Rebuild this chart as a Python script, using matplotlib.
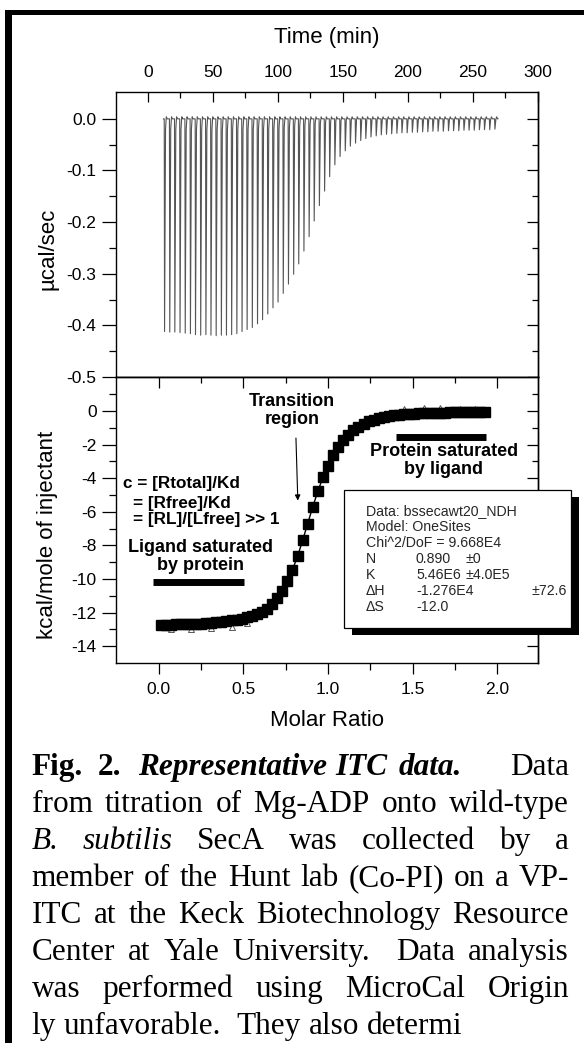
import matplotlib
matplotlib.use('Agg')
import matplotlib.pyplot as plt
from matplotlib.patches import Rectangle
from matplotlib.ticker import FixedLocator

plt.rcParams['font.family'] = ['Liberation Sans', 'DejaVu Sans']
plt.rcParams['axes.unicode_minus'] = False

W, H = 584, 1043

# ---- data ----
# raw thermogram: injection start times (min) and peak heights (ucal/sec)
inj_time = [12.5, 16.5, 20.4, 24.4, 28.4, 32.4, 36.3, 40.3, 44.3, 48.2,
            52.2, 56.2, 60.1, 64.1, 68.1, 72.1, 76.0, 80.0, 84.0, 87.9,
            91.9, 95.9, 99.8, 103.8, 107.8, 111.8, 115.7, 119.7, 123.7, 127.6,
            131.6, 135.6, 139.5, 143.5, 147.5, 151.5, 155.4, 159.4, 163.4, 167.3,
            171.3, 175.3, 179.2, 183.2, 187.2, 191.2, 195.1, 199.1, 203.1, 207.0,
            211.0, 215.0, 218.9, 222.9, 226.9, 230.9, 234.8, 238.8, 242.8, 246.7,
            250.7, 254.7, 258.6, 262.6, 266.6]
peak_depth = [-0.412, -0.413, -0.413, -0.414, -0.415, -0.416, -0.418, -0.419, -0.418, -0.419,
              -0.420, -0.419, -0.419, -0.418, -0.416, -0.412, -0.408, -0.404, -0.397, -0.389,
              -0.378, -0.366, -0.355, -0.338, -0.320, -0.301, -0.281, -0.256, -0.228, -0.198,
              -0.168, -0.140, -0.112, -0.089, -0.073, -0.062, -0.053, -0.047, -0.042, -0.038,
              -0.035, -0.033, -0.031, -0.030, -0.029, -0.028, -0.027, -0.027, -0.026, -0.026,
              -0.025, -0.025, -0.024, -0.024, -0.024, -0.023, -0.023, -0.023, -0.022, -0.022,
              -0.022, -0.021, -0.021, -0.021, -0.020]

# integrated heats (kcal/mole of injectant) vs molar ratio
molar_ratio = [0.01, 0.04, 0.07, 0.10, 0.13, 0.16, 0.19, 0.22, 0.25, 0.28,
               0.31, 0.34, 0.37, 0.40, 0.43, 0.46, 0.49, 0.52, 0.55, 0.58,
               0.61, 0.64, 0.67, 0.70, 0.73, 0.76, 0.79, 0.82, 0.85, 0.88,
               0.91, 0.94, 0.97, 1.00, 1.03, 1.06, 1.09, 1.12, 1.15, 1.18,
               1.21, 1.24, 1.27, 1.30, 1.33, 1.36, 1.39, 1.42, 1.45, 1.48,
               1.51, 1.54, 1.57, 1.60, 1.63, 1.66, 1.69, 1.72, 1.75, 1.78,
               1.81, 1.84, 1.87, 1.90, 1.93]
heat = [-12.72, -12.72, -12.71, -12.70, -12.70, -12.69, -12.68, -12.66, -12.65, -12.63,
        -12.61, -12.58, -12.55, -12.51, -12.47, -12.42, -12.36, -12.29, -12.20, -12.09,
        -11.95, -11.76, -11.50, -11.15, -10.70, -10.12, -9.45, -8.65, -7.70, -6.70,
        -5.70, -4.78, -3.95, -3.25, -2.65, -2.15, -1.75, -1.42, -1.15, -0.93,
        -0.76, -0.62, -0.51, -0.43, -0.36, -0.31, -0.27, -0.23, -0.20, -0.18,
        -0.16, -0.15, -0.13, -0.12, -0.11, -0.10, -0.10, -0.09, -0.08, -0.08,
        -0.07, -0.07, -0.06, -0.06, -0.05]

# scattered open triangles (raw points poking out from behind the squares)
tri_ratio = [0.07, 0.19, 0.31, 0.43, 0.52, 1.45, 1.57, 1.66, 1.78, 1.87]
tri_heat = [-13.0, -12.95, -12.9, -12.85, -12.6, 0.12, 0.15, 0.18, 0.14, 0.12]

time_ticks = [0, 50, 100, 150, 200, 250, 300]
power_ticks = [-0.5, -0.4, -0.3, -0.2, -0.1, 0.0]
power_labels = ['-0.5', '-0.4', '-0.3', '-0.2', '-0.1', '0.0']
ratio_ticks = [0.0, 0.5, 1.0, 1.5, 2.0]
ratio_labels = ['0.0', '0.5', '1.0', '1.5', '2.0']
heat_ticks = [-14, -12, -10, -8, -6, -4, -2, 0]

fit_lines = ['Data: bssecawt20_NDH', 'Model: OneSites', 'Chi^2/DoF = 9.668E4']
fit_names = ['N', 'K', '\u0394H', '\u0394S']
fit_values = ['0.890', '5.46E6', '-1.276E4', '-12.0']
fit_errors = ['\u00b10', '\u00b14.0E5', '\u00b172.6', '']

caption = [
    [('Fig.', 'bold', 'normal', 0), ('2.', 'bold', 'normal', 1),
     ('Representative', 'bold', 'italic', 1.1), ('ITC', 'bold', 'italic', 0.55),
     ('data.', 'bold', 'italic', 0.8), ('Data', 'normal', 'normal', 3.2)],
    [(w, 'normal', 'normal', 1) for w in 'from titration of Mg-ADP onto wild-type'.split()],
    [('B.', 'normal', 'italic', 0), ('subtilis', 'normal', 'italic', 1)]
    + [(w, 'normal', 'normal', 1) for w in 'SecA was collected by a'.split()],
    [(w, 'normal', 'normal', 1) for w in 'member of the Hunt lab (Co-PI) on a VP-'.split()],
    [(w, 'normal', 'normal', 1) for w in 'ITC at the Keck Biotechnology Resource'.split()],
    [(w, 'normal', 'normal', 1) for w in 'Center at Yale University.'.split()]
    + [('Data', 'normal', 'normal', 2), ('analysis', 'normal', 'normal', 1)],
    [(w, 'normal', 'normal', 1) for w in 'was performed using MicroCal Origin'.split()],
    [(w, 'normal', 'normal', 1) for w in 'ly unfavorable.'.split()]
    + [('They', 'normal', 'normal', 2), ('also', 'normal', 'normal', 1), ('determi', 'normal', 'normal', 1)],
]


def fx(px):
    return px / W


def fy(py):
    return 1 - py / H


fig = plt.figure(figsize=(W / 100, H / 100), dpi=100)
fig.patch.set_facecolor('white')

ax1 = fig.add_axes([fx(116), fy(377), (538 - 116) / W, (377 - 92) / H])
ax2 = fig.add_axes([fx(116), fy(663), (538 - 116) / W, (663 - 377) / H])

# ---- top panel: raw power trace ----
tr_t, tr_y = [inj_time[0] - 0.6], [0.0]
for t, d in zip(inj_time, peak_depth):
    tr_t += [t, t + 0.25, t + 1.0, t + 1.6, t + 2.3]
    tr_y += [0.0, d, d * 0.05, 0.004, 0.0]
tr_t.append(inj_time[-1] + 2.6)
tr_y.append(0.0)
ax1.plot(tr_t, tr_y, color='#555555', lw=0.8)

ax1.set_xlim(-24.6, 300)
ax1.set_ylim(-0.5, 0.052)

# ---- bottom panel: integrated heats ----
ax2.plot(molar_ratio, heat, color='black', lw=1.0, zorder=3)
ax2.plot(molar_ratio, heat, 's', ms=6.8, color='black', zorder=4)
ax2.plot(tri_ratio, tri_heat, '^', ms=4, mfc='white', mec='#555555', mew=0.7, zorder=2)
ax2.set_xlim(-0.253, 2.241)
ax2.set_ylim(-15, 2.02)

# ---- axes styling ----
tick_font = 12.5
for ax in (ax1, ax2):
    for s in ax.spines.values():
        s.set_linewidth(1.0)

ax1.xaxis.set_ticks_position('top')
ax1.set_xticks(time_ticks)
ax1.xaxis.set_minor_locator(FixedLocator([25, 75, 125, 175, 225, 275]))
ax1.tick_params(axis='x', which='both', direction='in', top=True, bottom=False,
                labeltop=True, labelbottom=False, labelsize=tick_font, pad=8.5, width=0.9)
ax1.tick_params(axis='x', which='major', length=7.5)
ax1.tick_params(axis='x', which='minor', length=4)
ax1.set_yticks(power_ticks, power_labels)
ax1.yaxis.set_minor_locator(FixedLocator([-0.45, -0.35, -0.25, -0.15, -0.05]))
ax1.tick_params(axis='y', which='both', direction='out', labelsize=tick_font, pad=4, width=0.9)
ax1.tick_params(axis='y', which='major', length=10)
ax1.tick_params(axis='y', which='minor', length=5)

ax2.set_xticks(ratio_ticks, ratio_labels)
ax2.xaxis.set_minor_locator(FixedLocator([0.25, 0.75, 1.25, 1.75]))
ax2.tick_params(axis='x', which='both', direction='out', labelsize=tick_font, pad=5.5, width=0.9)
ax2.tick_params(axis='x', which='major', length=8)
ax2.tick_params(axis='x', which='minor', length=5)
ax2.set_yticks(heat_ticks, [str(v) for v in heat_ticks])
ax2.yaxis.set_minor_locator(FixedLocator([-13, -11, -9, -7, -5, -3, -1, 1]))
ax2.tick_params(axis='y', which='both', direction='out', labelsize=tick_font, pad=4, width=0.9)
ax2.tick_params(axis='y', which='major', length=10)
ax2.tick_params(axis='y', which='minor', length=5)

# mirrored inward ticks on right / top
for ax, major, minor in ((ax1, power_ticks, [-0.45, -0.35, -0.25, -0.15, -0.05]),
                         (ax2, heat_ticks, [-13, -11, -9, -7, -5, -3, -1, 1])):
    sec = ax.secondary_yaxis('right')
    sec.yaxis.set_major_locator(FixedLocator(major))
    sec.yaxis.set_minor_locator(FixedLocator(minor))
    sec.tick_params(axis='y', which='both', direction='in', labelright=False, width=0.9)
    sec.tick_params(axis='y', which='major', length=8)
    sec.tick_params(axis='y', which='minor', length=4)
    sec.spines['right'].set_linewidth(1.0)

sec = ax2.secondary_xaxis('top')
sec.xaxis.set_major_locator(FixedLocator(ratio_ticks))
sec.xaxis.set_minor_locator(FixedLocator([0.25, 0.75, 1.25, 1.75]))
sec.tick_params(axis='x', which='both', direction='in', labeltop=False, width=0.9)
sec.tick_params(axis='x', which='major', length=8)
sec.tick_params(axis='x', which='minor', length=4)
sec.spines['top'].set_linewidth(1.0)

# axis titles
lab_font = 16
fig.text(fx(327), fy(38), 'Time (min)', ha='center', va='center', fontsize=lab_font)
fig.text(fx(327), fy(720), 'Molar Ratio', ha='center', va='center', fontsize=lab_font)
fig.text(fx(48), fy(249), '\u00b5cal/sec', ha='center', va='center', rotation=90, fontsize=lab_font)
fig.text(fx(48), fy(535), 'kcal/mole of injectant', ha='center', va='center', rotation=90,
         fontsize=lab_font)

# ---- annotations in the lower panel ----
ann = dict(fontsize=13, fontweight='bold', color='black')
ax2.text(0.788, 0.55, 'Transition', ha='center', va='center', **ann)
ax2.text(0.788, -0.49, 'region', ha='center', va='center', **ann)
ax2.annotate('', xy=(0.822, -5.5), xytext=(0.81, -1.45),
             arrowprops=dict(arrowstyle='-|>', lw=0.8, color='black', mutation_scale=8))
ax2.text(1.685, -2.43, 'Protein saturated', ha='center', va='center', **ann)
ax2.text(1.685, -3.5, 'by ligand', ha='center', va='center', **ann)
ax2.plot([1.40, 1.935], [-1.56, -1.56], color='black', lw=5, solid_capstyle='butt')
ax2.text(0.246, -8.15, 'Ligand saturated', ha='center', va='center', **ann)
ax2.text(0.246, -9.19, 'by protein', ha='center', va='center', **ann)
ax2.plot([-0.037, 0.503], [-10.18, -10.18], color='black', lw=5, solid_capstyle='butt')
ann_c = dict(fontsize=12.3, fontweight='bold', color='black', ha='left', va='center')
ax2.text(-0.212, -4.3, 'c = [Rtotal]/Kd', **ann_c)
ax2.text(-0.153, -5.48, '= [Rfree]/Kd', **ann_c)
ax2.text(-0.153, -6.46, '= [RL]/[Lfree] >> 1', **ann_c)

# ---- fit results box with drop shadow ----
bl, bt, br, bb = 344, 490, 571, 628
fig.add_artist(Rectangle((fx(bl + 8), fy(bb + 7)), (br - bl) / W, (bb - bt) / H,
                         transform=fig.transFigure, facecolor='black', edgecolor='none', zorder=10))
fig.add_artist(Rectangle((fx(bl), fy(bb)), (br - bl) / W, (bb - bt) / H,
                         transform=fig.transFigure, facecolor='white', edgecolor='black',
                         lw=0.9, zorder=11))
box_font = dict(fontsize=10.2, color='#262626', va='center', zorder=12)
row_y = [511, 527, 543, 559, 575, 591, 607]
for i, s in enumerate(fit_lines):
    fig.text(fx(366), fy(row_y[i]), s, **box_font)
err_x = [465, 465, 532, 532]
for i, (n, v, e) in enumerate(zip(fit_names, fit_values, fit_errors)):
    y = fy(row_y[i + 3])
    fig.text(fx(366), y, n, **box_font)
    fig.text(fx(416), y, v, **box_font)
    if e:
        fig.text(fx(err_x[i]), y, e, **box_font)

# ---- outer frame (left and top) ----
fig.add_artist(Rectangle((fx(5), 0), 7 / W, fy(10), transform=fig.transFigure,
                         facecolor='black', edgecolor='none', zorder=20))
fig.add_artist(Rectangle((fx(5), fy(15)), 1 - fx(5), 5 / H, transform=fig.transFigure,
                         facecolor='black', edgecolor='none', zorder=20))

# ---- justified caption ----
cap_left, cap_right = 31.6, 569.0
cap_base = [775, 812, 849, 886, 923, 960, 997, 1034]
renderer = fig.canvas.get_renderer()


def natural_width(words, size):
    s = ' '.join(w for w, *_ in words)
    t = fig.text(0, 0, s, fontsize=size, family='Liberation Serif')
    w = t.get_window_extent(renderer).width
    t.remove()
    return w


# pick the type size so the tightest lines just fill the column
widest = max(natural_width(caption[k], 18) for k in (1, 3, 4))
cap_size = 18 * (cap_right - cap_left) / widest * 0.97
space_w = 0.25 * cap_size * 100 / 72
for li, words in enumerate(caption):
    texts, widths = [], []
    for w, weight, style, _ in words:
        t = fig.text(0, fy(cap_base[li]), w, fontsize=cap_size, fontweight=weight,
                     fontstyle=style, family='Liberation Serif', va='baseline', ha='left')
        texts.append(t)
        widths.append(t.get_window_extent(renderer).width)
    gaps = [g for *_, g in words[1:]]
    if li == len(caption) - 1:
        unit = space_w
    else:
        unit = (cap_right - cap_left - sum(widths)) / sum(gaps)
    x = cap_left
    for k, t in enumerate(texts):
        if k > 0:
            x += gaps[k - 1] * unit
        t.set_x(fx(x))
        x += widths[k]

fig.savefig('out.png', dpi=100)
